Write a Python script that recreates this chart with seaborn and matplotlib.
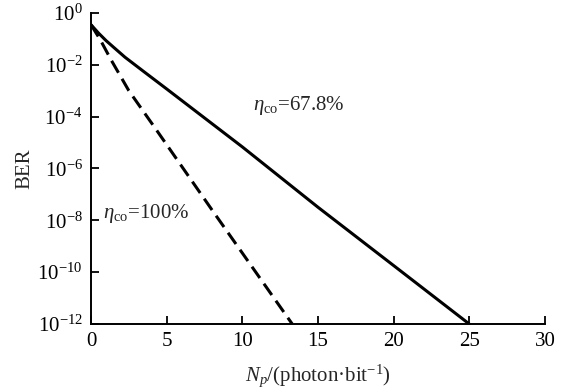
import numpy as np
import pandas as pd
import matplotlib
matplotlib.use("Agg")
import matplotlib.pyplot as plt
import seaborn as sns
from matplotlib.ticker import LogFormatterSciNotation, NullLocator

# ===== DATA =====
NP_67 = [0, 0.5, 1.0, 1.5, 2.25, 3.5, 5, 10, 15, 20, 25]
BER_67 = [3.5e-1, 1.66e-1, 8.5e-2, 4.7e-2, 1.95e-2, 5.4e-3, 1.17e-3,
          6.8e-6, 3.2e-8, 1.8e-10, 1.0e-12]

NP_100 = [0, 0.6, 1.34, 2.5, 4.37, 8, 13.3]
BER_100 = [3.5e-1, 9.5e-2, 1.5e-2, 1.0e-3, 2.8e-5, 2.5e-8, 1.0e-12]

LABEL_67 = r"$\eta_{\rm co}$=67.8%"
LABEL_100 = r"$\eta_{\rm co}$=100%"
Y_TICKS = [1e0, 1e-2, 1e-4, 1e-6, 1e-8, 1e-10, 1e-12]
X_TICKS = [0, 5, 10, 15, 20, 25, 30]

# ===== STYLE =====
sns.set_style("ticks")
plt.rcParams["font.family"] = ["Liberation Serif", "DejaVu Serif"]
plt.rcParams["mathtext.fontset"] = "custom"
plt.rcParams["mathtext.rm"] = "Liberation Serif"
plt.rcParams["mathtext.it"] = "Liberation Serif:italic"
plt.rcParams["mathtext.bf"] = "Liberation Serif:bold"

df = pd.concat([
    pd.DataFrame({"Np": NP_67, "BER": BER_67, "eta": "67.8"}),
    pd.DataFrame({"Np": NP_100, "BER": BER_100, "eta": "100"}),
])

fig = plt.figure(figsize=(5.67, 3.92), dpi=100)
ax = fig.add_axes([0.1605, 0.1735, 0.8005, 0.7935])

sns.lineplot(data=df, x="Np", y="BER", hue="eta", style="eta",
             palette={"67.8": "black", "100": "black"},
             dashes={"67.8": "", "100": (4.5, 2.3)},
             linewidth=2.2, legend=False, ax=ax, sort=False)

ax.set_yscale("log")
ax.set_xlim(0, 30)
ax.set_ylim(1e-12, 1e0)
ax.set_xticks(X_TICKS)
ax.set_xticklabels([str(t) for t in X_TICKS])
ax.set_yticks(Y_TICKS)
ax.yaxis.set_major_formatter(LogFormatterSciNotation())
ax.yaxis.set_minor_locator(NullLocator())

ax.tick_params(direction="in", length=6, width=1.3, labelsize=15, colors="black", pad=6)
for s in ["left", "bottom"]:
    ax.spines[s].set_linewidth(1.4)
    ax.spines[s].set_color("black")
sns.despine(ax=ax)

ax.set_ylabel("BER", fontsize=15, labelpad=2)
ax.set_xlabel(r"$N_p$/(photon·bit$^{-1}$)", fontsize=15, labelpad=8)

ax.text(10.7, 10 ** -3.57, LABEL_67, fontsize=15, va="center", ha="left")
ax.text(0.77, 10 ** -7.75, LABEL_100, fontsize=15, va="center", ha="left")

fig.savefig("out.png", dpi=100)
plt.close(fig)
